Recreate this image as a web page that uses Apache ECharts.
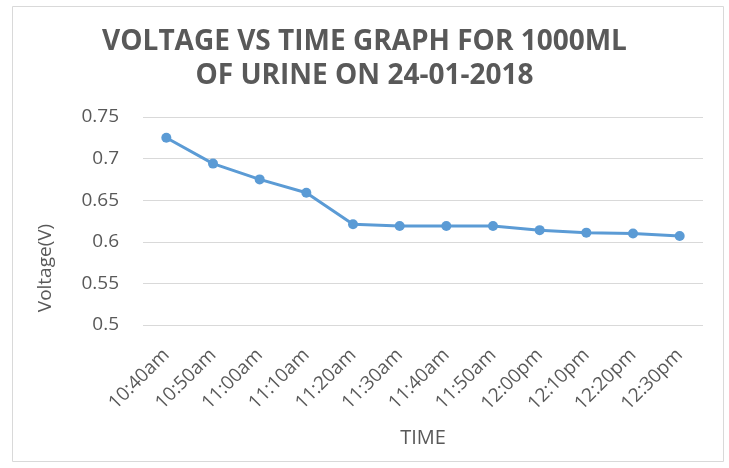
<!DOCTYPE html>
<html>
<head>
<meta charset="utf-8">
<script src="https://cdn.jsdelivr.net/npm/echarts@6/dist/echarts.min.js"></script>
<style>
  html, body { margin: 0; padding: 0; background: #fff; }
  #chart { width: 729px; height: 468px; }
</style>
</head>
<body>
<div id="chart"></div>
<script>
// voltage readings, 1000ml urine, 24-01-2018
const times = ['10:40am','10:50am','11:00am','11:10am','11:20am','11:30am','11:40am','11:50am','12:00pm','12:10pm','12:20pm','12:30pm'];
const voltage = [0.725, 0.694, 0.675, 0.659, 0.621, 0.619, 0.619, 0.619, 0.614, 0.611, 0.610, 0.607];
const titleLines = ['VOLTAGE VS TIME GRAPH FOR 1000ML', 'OF URINE ON 24-01-2018'];

const textColor = '#595959';
const font = "'Open Sans', 'Liberation Sans', sans-serif";

const chart = echarts.init(document.getElementById('chart'));
chart.setOption({
    animation: false,
    textStyle: { fontFamily: font },
    graphic: [{
        type: 'rect', shape: { x: 12.5, y: 6.5, width: 711, height: 455 },
        style: { fill: 'none', stroke: '#d9d9d9', lineWidth: 1 }, silent: true
    }],
    title: {
        text: titleLines.join('\n'), left: 'center', top: 20,
        textStyle: { fontSize: 28, fontWeight: 'bold', color: textColor, lineHeight: 34, fontFamily: font }
    },
    grid: { left: 143, right: 26, top: 117, bottom: 143 },
    xAxis: {
        type: 'category', data: times, boundaryGap: true,
        name: 'TIME', nameLocation: 'middle', nameGap: 103,
        nameTextStyle: { fontSize: 20, color: textColor },
        axisLine: { show: false }, axisTick: { show: false },
        axisLabel: { rotate: 45, interval: 0, fontSize: 19, color: textColor, margin: 27 }
    },
    yAxis: {
        type: 'value', min: 0.5, max: 0.75, interval: 0.05,
        name: 'Voltage(V)', nameLocation: 'middle', nameGap: 88,
        nameTextStyle: { fontSize: 19, color: textColor, padding: [0, 94, 0, 0] },
        axisLine: { show: false }, axisTick: { show: false },
        axisLabel: { fontSize: 19, color: textColor, margin: 24 },
        splitLine: { lineStyle: { color: '#d9d9d9', width: 1 } }
    },
    series: [{
        type: 'line', data: voltage,
        symbol: 'circle', symbolSize: 10,
        lineStyle: { color: '#5b9bd5', width: 3 },
        itemStyle: { color: '#5b9bd5' }
    }]
});
</script>
</body>
</html>
